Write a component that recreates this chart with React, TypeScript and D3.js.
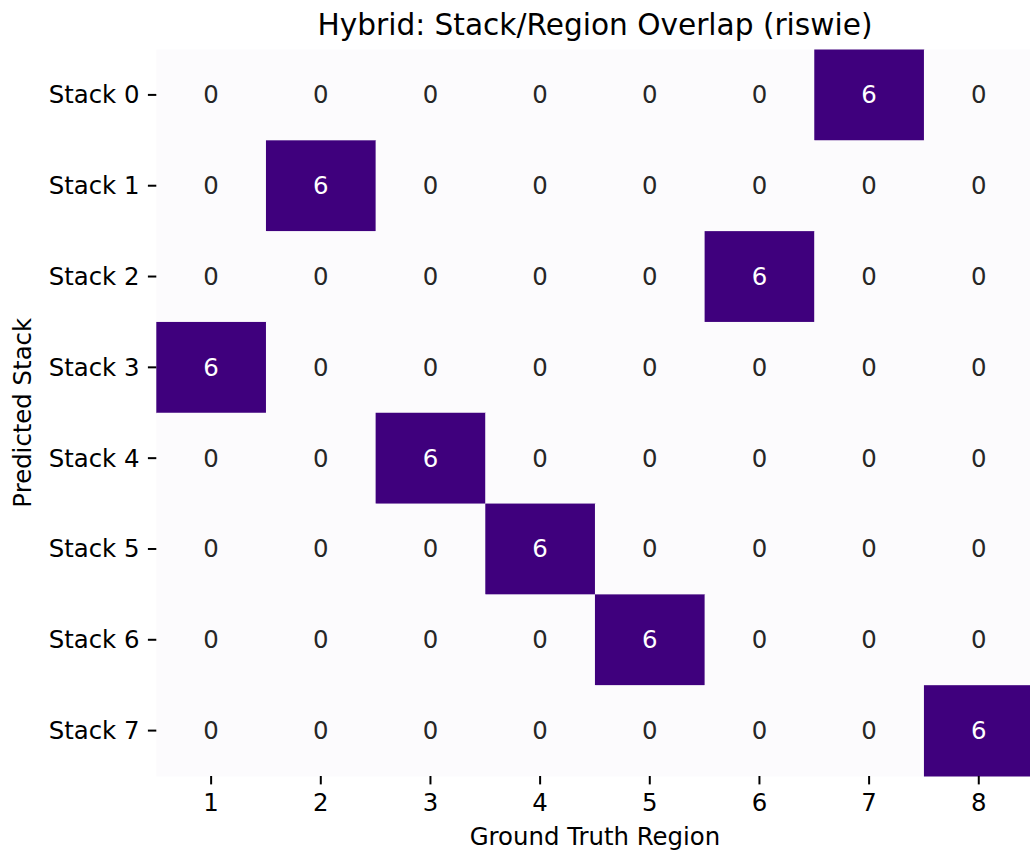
import React from "react";
import * as d3 from "d3";

const rowLabels = ["Stack 0", "Stack 1", "Stack 2", "Stack 3", "Stack 4", "Stack 5", "Stack 6", "Stack 7"];
const colLabels = ["1", "2", "3", "4", "5", "6", "7", "8"];
const values: number[][] = [
  [0, 0, 0, 0, 0, 0, 6, 0],
  [0, 6, 0, 0, 0, 0, 0, 0],
  [0, 0, 0, 0, 0, 6, 0, 0],
  [6, 0, 0, 0, 0, 0, 0, 0],
  [0, 0, 6, 0, 0, 0, 0, 0],
  [0, 0, 0, 6, 0, 0, 0, 0],
  [0, 0, 0, 0, 6, 0, 0, 0],
  [0, 0, 0, 0, 0, 0, 0, 6],
];
const title = "Hybrid: Stack/Region Overlap (riswie)";
const xTitle = "Ground Truth Region";
const yTitle = "Predicted Stack";

const W = 1030;
const H = 853;
const left = 156.3;
const right = 1033.6;
const top = 49.5;
const bottom = 776;
const FONT = "'DejaVu Sans', sans-serif";

export default function App() {
  const x = d3.scaleBand<string>().domain(colLabels).range([left, right]).padding(0);
  const y = d3.scaleBand<string>().domain(rowLabels).range([top, bottom]).padding(0);
  const color = d3.scaleLinear<string>().domain([0, 6]).range(["#fcfbfd", "#3f007d"]);
  const cells: { r: string; c: string; v: number }[] = [];
  values.forEach((row, i) => row.forEach((v, j) => cells.push({ r: rowLabels[i], c: colLabels[j], v })));
  const tick = 8.4;
  const pad = 8.4;
  const fs = 24.4;
  return (
    <svg width={W} height={H} style={{ position: "absolute", left: 0, top: 0, background: "#fff" }} fontFamily={FONT}>
      <rect x={0} y={0} width={W} height={H} fill="#fff" />
      {cells.map((d, k) => (
        <g key={k}>
          <rect x={x(d.c)!} y={y(d.r)!} width={x.bandwidth() + 0.5} height={y.bandwidth() + 0.5} fill={color(d.v)} />
          <text
            x={x(d.c)! + x.bandwidth() / 2}
            y={y(d.r)! + y.bandwidth() / 2}
            textAnchor="middle"
            dominantBaseline="central"
            fontSize={fs}
            fill={d.v > 3 ? "#ffffff" : "#262626"}
          >
            {d.v}
          </text>
        </g>
      ))}
      {colLabels.map((c) => (
        <g key={c}>
          <line x1={x(c)! + x.bandwidth() / 2} x2={x(c)! + x.bandwidth() / 2} y1={bottom} y2={bottom + tick} stroke="#000" strokeWidth={2} />
          <text x={x(c)! + x.bandwidth() / 2} y={bottom + tick + pad} textAnchor="middle" dominantBaseline="hanging" fontSize={fs} fill="#000">
            {c}
          </text>
        </g>
      ))}
      {rowLabels.map((r) => (
        <g key={r}>
          <line x1={left - tick} x2={left} y1={y(r)! + y.bandwidth() / 2} y2={y(r)! + y.bandwidth() / 2} stroke="#000" strokeWidth={2} />
          <text x={left - tick - pad} y={y(r)! + y.bandwidth() / 2} textAnchor="end" dominantBaseline="central" fontSize={fs} fill="#000">
            {r}
          </text>
        </g>
      ))}
      <text x={(left + right) / 2} y={35} textAnchor="middle" fontSize={29.6} fill="#000">
        {title}
      </text>
      <text x={(left + right) / 2} y={845} textAnchor="middle" fontSize={fs} fill="#000">
        {xTitle}
      </text>
      <text transform={`translate(31,${(top + bottom) / 2}) rotate(-90)`} textAnchor="middle" fontSize={fs} fill="#000">
        {yTitle}
      </text>
    </svg>
  );
}
